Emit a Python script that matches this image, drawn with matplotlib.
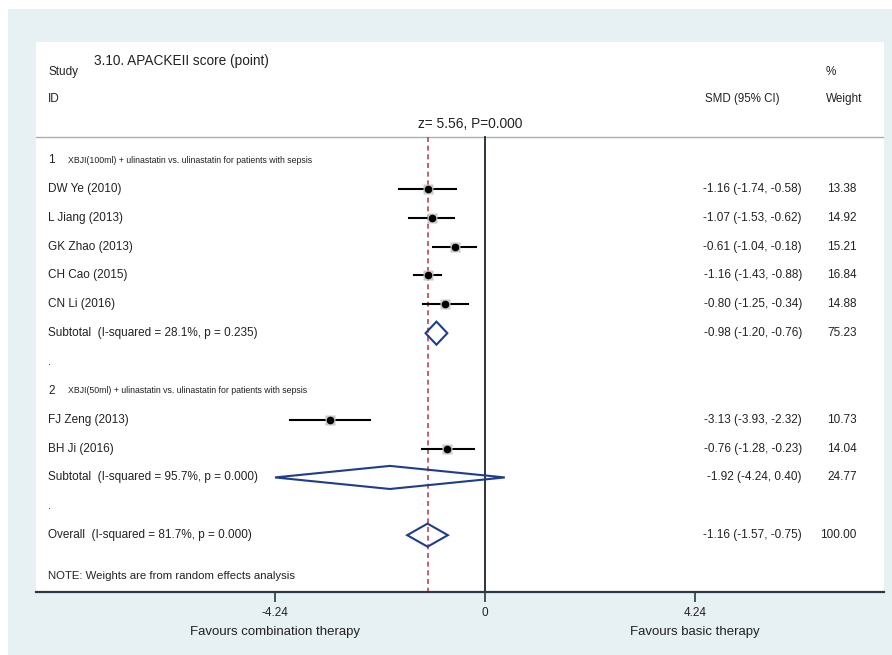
import matplotlib.pyplot as plt
from matplotlib.patches import Rectangle, Polygon
import matplotlib.transforms as mtransforms

plt.rcParams['font.family'] = ['Liberation Sans', 'DejaVu Sans']

# Study-level results (SMD, 95% CI, % weight)
group1_title = "XBJI(100ml) + ulinastatin vs. ulinastatin for patients with sepsis"
group1_names = ["DW Ye (2010)", "L Jiang (2013)", "GK Zhao (2013)", "CH Cao (2015)", "CN Li (2016)"]
group1_smd = [-1.16, -1.07, -0.61, -1.16, -0.80]
group1_lo = [-1.74, -1.53, -1.04, -1.43, -1.25]
group1_hi = [-0.58, -0.62, -0.18, -0.88, -0.34]
group1_wt = [13.38, 14.92, 15.21, 16.84, 14.88]
group1_sub = (-0.98, -1.20, -0.76, 75.23)
group1_het = "Subtotal  (I-squared = 28.1%, p = 0.235)"

group2_title = "XBJI(50ml) + ulinastatin vs. ulinastatin for patients with sepsis"
group2_names = ["FJ Zeng (2013)", "BH Ji (2016)"]
group2_smd = [-3.13, -0.76]
group2_lo = [-3.93, -1.28]
group2_hi = [-2.32, -0.23]
group2_wt = [10.73, 14.04]
group2_sub = (-1.92, -4.24, 0.40, 24.77)
group2_het = "Subtotal  (I-squared = 95.7%, p = 0.000)"

overall = (-1.16, -1.57, -0.75, 100.00)
overall_het = "Overall  (I-squared = 81.7%, p = 0.000)"

xticks = [-4.24, 0, 4.24]
xtick_labels = ["-4.24", "0", "4.24"]

TXT = '#222222'
BG = '#e7f1f3'
DIAMOND = '#1f3d8c'
DASH = '#b8494c'

fig = plt.figure(figsize=(8.92, 6.55), dpi=100)
fig.patch.set_facecolor('white')
W, H = 892, 655
bg = Rectangle((8 / W, 0), 1 - 8 / W, 1 - 9 / H, transform=fig.transFigure,
               facecolor=BG, edgecolor='none')
bg.set_zorder(-10)
fig.add_artist(bg)

ax = fig.add_axes([36 / W, 1 - 592 / H, 848 / W, 550 / H])
ax.set_zorder(1)
ax.set_facecolor('white')
ax.set_xlim(-9.065, 8.056)
ax.set_ylim(14.97, -4.09)
for s in ['left', 'right', 'top']:
    ax.spines[s].set_visible(False)
ax.spines['bottom'].set_color('#2c3a46')
ax.spines['bottom'].set_linewidth(1.6)
ax.set_yticks([])
ax.set_xticks(xticks)
ax.set_xticklabels(xtick_labels, fontsize=8.5, color=TXT)
ax.tick_params(axis='x', direction='out', length=7, width=1.2, color='#2c3a46', pad=4)

tr = mtransforms.blended_transform_factory(ax.transAxes, ax.transData)
LX = 0.0142
CI_X = 0.9033
WT_X = 0.968

# header
ax.text(LX, -3.05, "Study", transform=tr, fontsize=8.5, color=TXT, va='center')
ax.text(0.0684, -3.42, "3.10. APACKEII score (point)", transform=tr, fontsize=9.8,
        color=TXT, va='center')
ax.text(0.9316, -3.05, "%", transform=tr, fontsize=8.5, color=TXT, va='center')
ax.text(LX, -2.12, "ID", transform=tr, fontsize=8.5, color=TXT, va='center')
ax.text(0.789, -2.12, "SMD (95% CI)", transform=tr, fontsize=8.3, color=TXT, va='center')
ax.text(0.9316, -2.12, "Weight", transform=tr, fontsize=8.5, color=TXT, va='center')
ax.text(-0.3, -1.25, "z= 5.56, P=0.000", fontsize=9.9, color=TXT, va='center', ha='center')
ax.plot([0, 1], [-0.8, -0.8], transform=tr, color='#a8b0b4', lw=1.0)

# reference lines
ax.plot([0, 0], [-0.8, 14.97], color='#1a2430', lw=1.3, zorder=2)
ax.plot([overall[0]] * 2, [-0.8, 14.97], color=DASH, lw=1.2,
        dashes=(3, 2.2), zorder=2)


def fmt_ci(m, lo, hi):
    return f"{m:.2f} ({lo:.2f}, {hi:.2f})"


def study_row(y, name, m, lo, hi, wt):
    ax.text(LX, y, name, transform=tr, fontsize=8.5, color=TXT, va='center')
    ax.plot([lo, hi], [y, y], color='black', lw=1.5, zorder=3)
    ax.plot([m], [y], marker='s', ms=7, color='#c9c9c9', mec='none', zorder=3)
    ax.plot([m], [y], marker='o', ms=4.5, color='black', zorder=4)
    ax.text(CI_X, y, fmt_ci(m, lo, hi), transform=tr, fontsize=8.5, color=TXT,
            va='center', ha='right')
    ax.text(WT_X, y, f"{wt:.2f}", transform=tr, fontsize=8.5, color=TXT,
            va='center', ha='right')


def pooled_row(y, label, m, lo, hi, wt):
    ax.text(LX, y, label, transform=tr, fontsize=8.5, color=TXT, va='center')
    ax.add_patch(Polygon([[lo, y], [m, y - 0.4], [hi, y], [m, y + 0.4]],
                         closed=True, fill=False, edgecolor=DIAMOND, lw=1.5, zorder=4))
    ax.text(CI_X, y, fmt_ci(m, lo, hi), transform=tr, fontsize=8.5, color=TXT,
            va='center', ha='right')
    ax.text(WT_X, y, f"{wt:.2f}", transform=tr, fontsize=8.5, color=TXT,
            va='center', ha='right')


def group_header(y, num, title):
    ax.text(LX, y, num, transform=tr, fontsize=8.5, color=TXT, va='center')
    ax.text(0.0377, y, title, transform=tr, fontsize=6.3, color=TXT, va='center')


y = 0
group_header(y, "1", group1_title)
for i, name in enumerate(group1_names):
    y += 1
    study_row(y, name, group1_smd[i], group1_lo[i], group1_hi[i], group1_wt[i])
y += 1
pooled_row(y, group1_het, *group1_sub)
y += 1
ax.text(LX, y, ".", transform=tr, fontsize=8, color=TXT, va='center')

y += 1
group_header(y, "2", group2_title)
for i, name in enumerate(group2_names):
    y += 1
    study_row(y, name, group2_smd[i], group2_lo[i], group2_hi[i], group2_wt[i])
y += 1
pooled_row(y, group2_het, *group2_sub)
y += 1
ax.text(LX, y, ".", transform=tr, fontsize=8, color=TXT, va='center')

y += 1
pooled_row(y, overall_het, *overall)

ax.text(LX, 14.42, "NOTE: Weights are from random effects analysis", transform=tr,
        fontsize=8.2, color=TXT, va='center')

# direction labels under the axis
tb = mtransforms.blended_transform_factory(ax.transData, ax.transAxes)
ax.text(-4.24, -0.0727, "Favours combination therapy", transform=tb, fontsize=9.5,
        color=TXT, ha='center', va='center')
ax.text(4.24, -0.0727, "Favours basic therapy", transform=tb, fontsize=9.5,
        color=TXT, ha='center', va='center')

fig.savefig('out.png', dpi=100)
